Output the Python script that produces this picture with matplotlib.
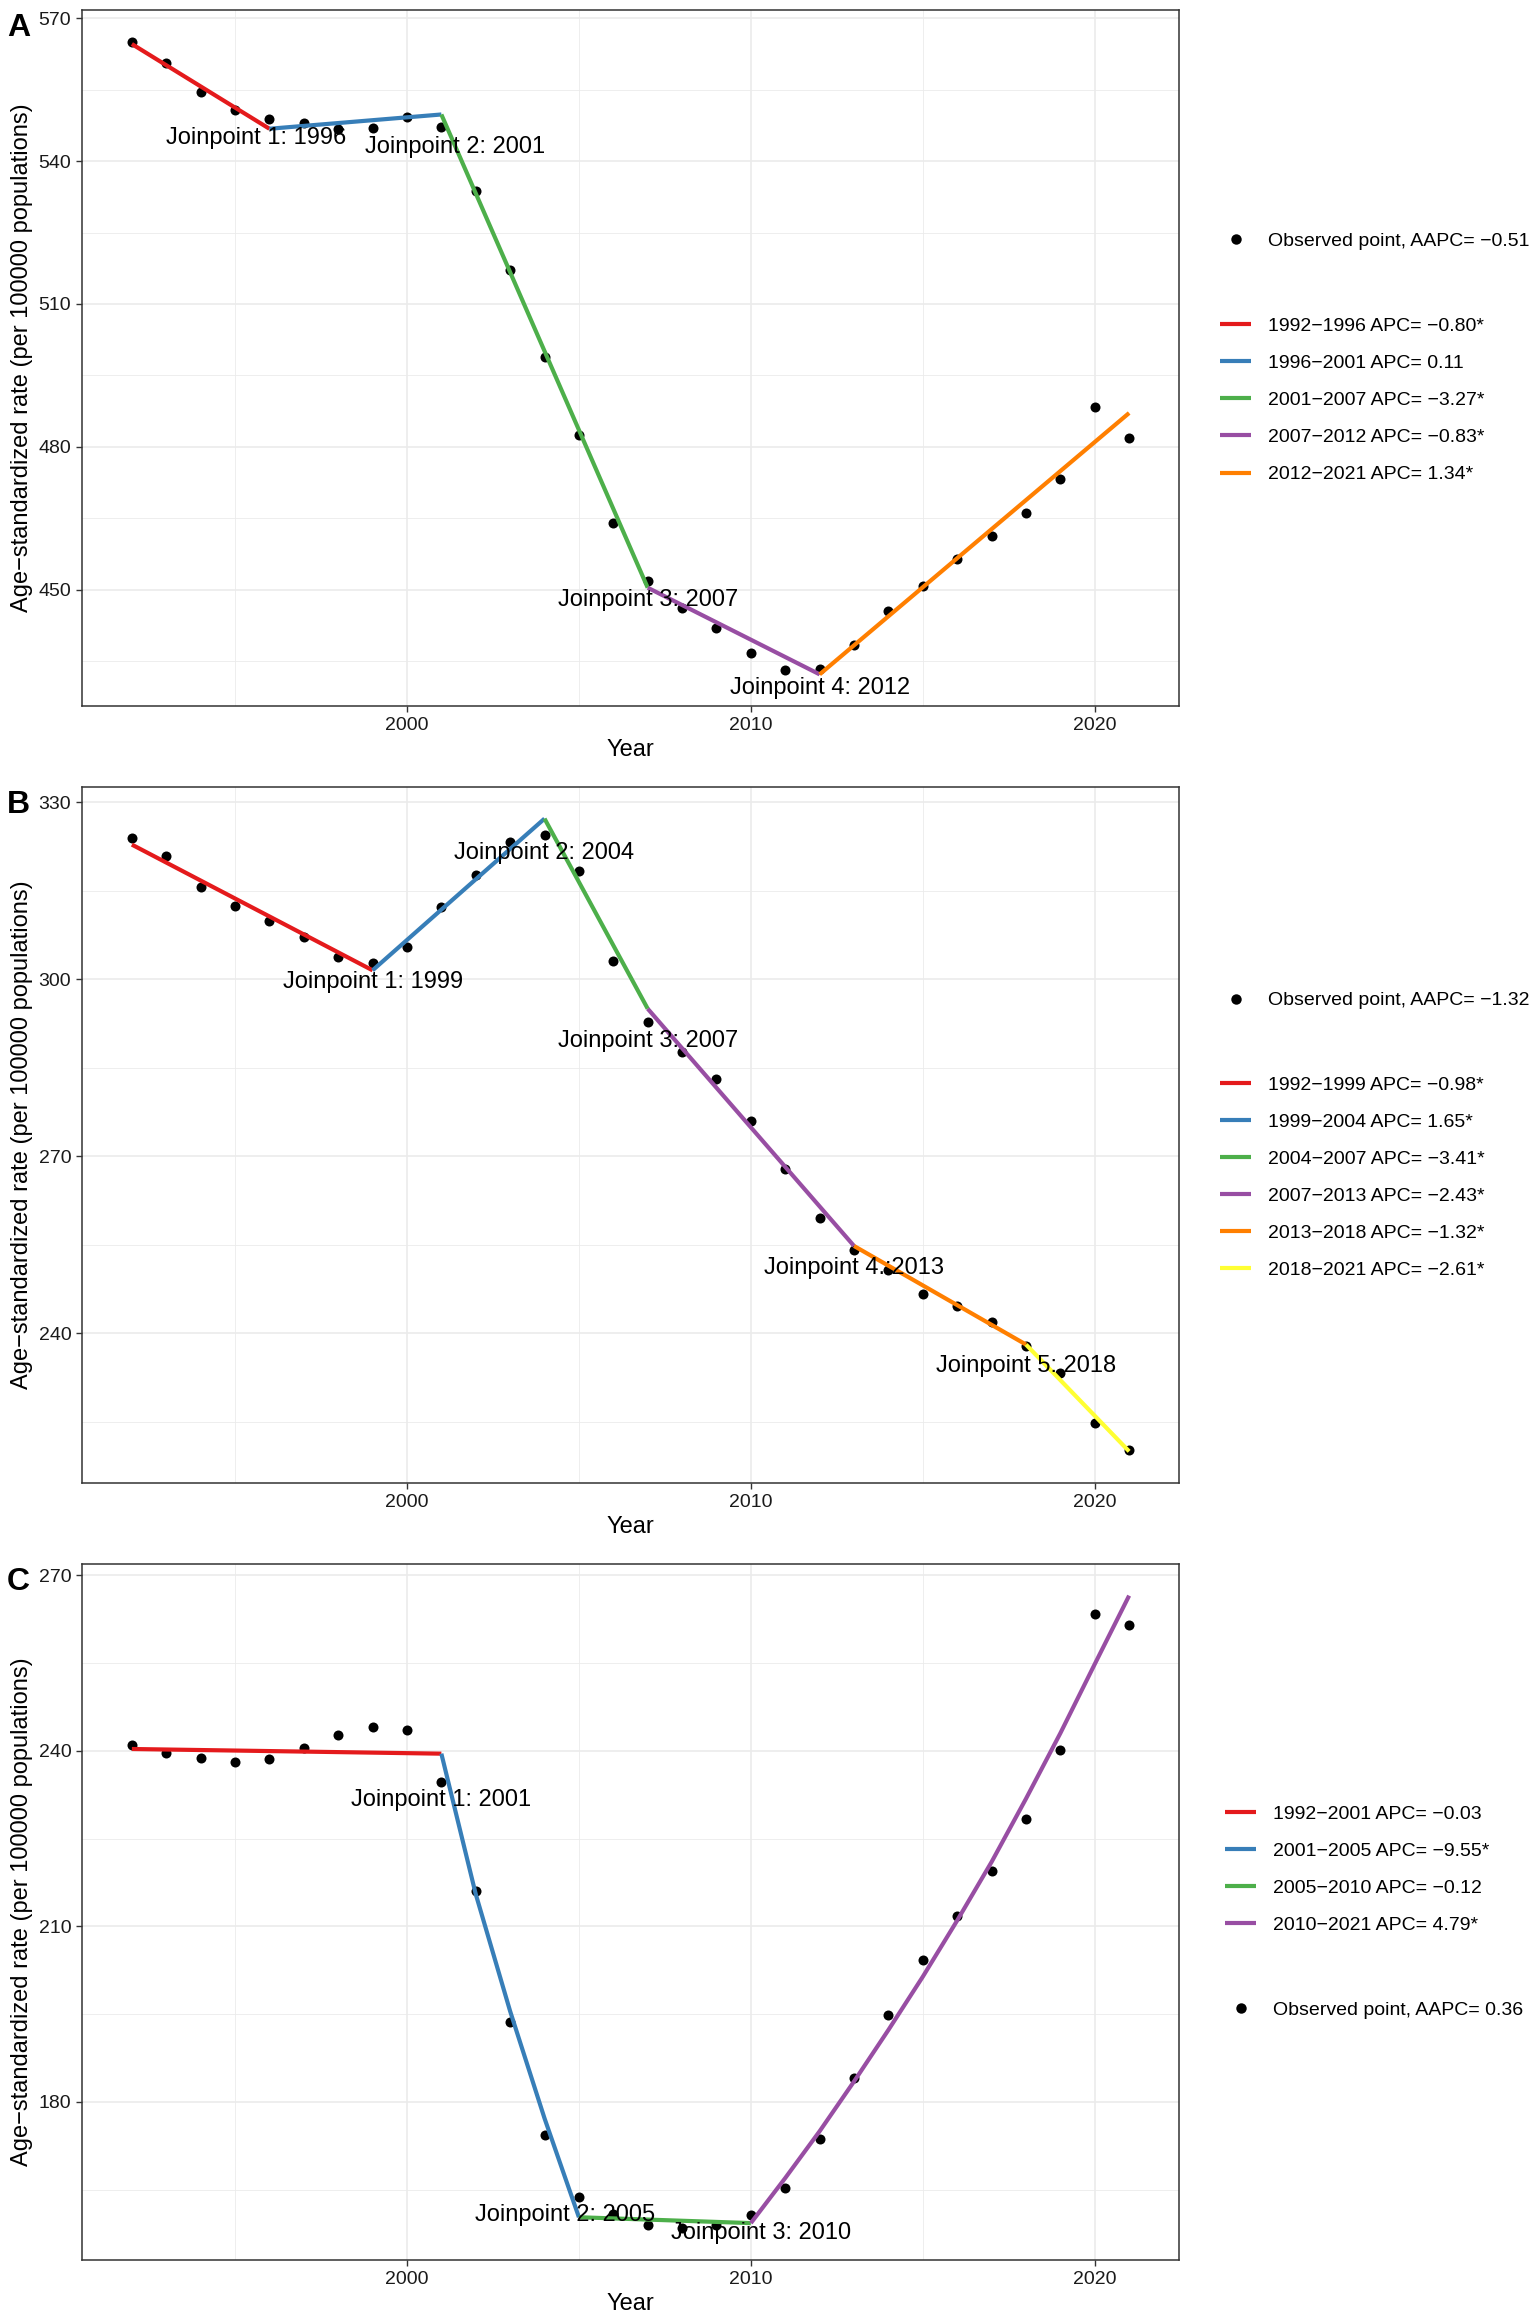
import matplotlib
matplotlib.use('Agg')
import matplotlib.pyplot as plt
from matplotlib.lines import Line2D
from matplotlib.ticker import MultipleLocator

plt.rcParams['font.family'] = ['Liberation Sans', 'DejaVu Sans']

# ---------------- data ----------------
years = list(range(1992, 2022))

# Panel A
obs_A = [565.1, 560.7, 554.6, 550.7, 548.8, 548.0, 546.7, 547.0, 549.3, 547.1,
         533.8, 517.2, 498.9, 482.5, 463.9, 451.8, 446.1, 442.0, 436.6, 433.1,
         433.4, 438.3, 445.5, 450.8, 456.4, 461.3, 466.0, 473.2, 488.3, 481.8]
fit_years_A = [[1992, 1996], [1996, 2001], [2001, 2007], [2007, 2012], [2012, 2021]]
fit_vals_A = [[564.6, 546.8], [546.8, 549.8], [549.8, 450.4], [450.4, 432.2], [432.2, 487.1]]
seg_labels_A = ["1992\u22121996 APC= \u22120.80*", "1996\u22122001 APC= 0.11",
                "2001\u22122007 APC= \u22123.27*", "2007\u22122012 APC= \u22120.83*",
                "2012\u22122021 APC= 1.34*"]
obs_label_A = "Observed point, AAPC= \u22120.51"
jp_labels_A = ["Joinpoint 1: 1996", "Joinpoint 2: 2001", "Joinpoint 3: 2007", "Joinpoint 4: 2012"]
jp_pos_A = [(1995.6, 544.9), (2001.4, 543.0), (2007.0, 447.8), (2012.0, 429.3)]

# Panel B
obs_B = [323.9, 320.8, 315.6, 312.4, 309.9, 307.2, 303.8, 302.8, 305.5, 312.2,
         317.6, 323.2, 324.5, 318.4, 303.0, 292.7, 287.7, 283.1, 275.9, 267.8,
         259.6, 254.2, 250.7, 246.6, 244.6, 242.0, 237.8, 233.3, 224.8, 220.3]
fit_years_B = [[1992, 1999], [1999, 2004], [2004, 2007], [2007, 2013], [2013, 2018], [2018, 2021]]
fit_vals_B = [[322.8, 301.5], [301.5, 327.2], [327.2, 295.0], [295.0, 254.8], [254.8, 238.1], [238.1, 220.0]]
seg_labels_B = ["1992\u22121999 APC= \u22120.98*", "1999\u22122004 APC= 1.65*",
                "2004\u22122007 APC= \u22123.41*", "2007\u22122013 APC= \u22122.43*",
                "2013\u22122018 APC= \u22121.32*", "2018\u22122021 APC= \u22122.61*"]
obs_label_B = "Observed point, AAPC= \u22121.32"
jp_labels_B = ["Joinpoint 1: 1999", "Joinpoint 2: 2004", "Joinpoint 3: 2007",
               "Joinpoint 4.:2013", "Joinpoint 5: 2018"]
jp_pos_B = [(1999.0, 299.5), (2004.0, 321.3), (2007.0, 289.5), (2013.0, 251.0), (2018.0, 234.5)]

# Panel C
obs_C = [240.9, 239.6, 238.7, 238.0, 238.6, 240.5, 242.7, 244.0, 243.5, 234.7,
         216.0, 193.7, 174.3, 163.8, 160.9, 159.0, 158.4, 159.0, 160.6, 165.3,
         173.7, 184.1, 194.8, 204.2, 211.8, 219.4, 228.3, 240.1, 263.3, 261.5]
fit_years_C = [[1992, 2001], [2001, 2002, 2003, 2004, 2005], [2005, 2010],
               list(range(2010, 2022))]
fit_vals_C = [[240.3, 239.5], [239.5, 215.5, 195.5, 177.2, 160.3], [160.3, 159.3],
              [159.3, 167.0, 175.0, 183.5, 192.3, 201.4, 211.0, 221.0, 231.8, 243.0, 254.8, 266.5]]
seg_labels_C = ["1992\u22122001 APC= \u22120.03", "2001\u22122005 APC= \u22129.55*",
                "2005\u22122010 APC= \u22120.12", "2010\u22122021 APC= 4.79*"]
obs_label_C = "Observed point, AAPC= 0.36"
jp_labels_C = ["Joinpoint 1: 2001", "Joinpoint 2: 2005", "Joinpoint 3: 2010"]
jp_pos_C = [(2001.0, 231.6), (2004.6, 160.7), (2010.3, 157.6)]

panel_letters = ["A", "B", "C"]
x_major_ticks = [2000, 2010, 2020]

# ---------------- style ----------------
SET1 = ['#E41A1C', '#377EB8', '#4DAF4A', '#984EA3', '#FF7F00', '#FFFF33']
W, H = 1535, 2321
fig = plt.figure(figsize=(W / 100, H / 100), dpi=100)

ax_left, ax_right = 82, 1179
panel_tb = [(10, 706), (787, 1483), (1564, 2260)]
# legend layout (pixel): observed-row centre y, line-block centre y, left x
leg_layout = [(241.3, 400.4, 1220), (1000.6, 1177.5, 1220), (2010.1, 1869.5, 1225)]

panels = [
    (obs_A, fit_years_A, fit_vals_A, seg_labels_A, obs_label_A, jp_labels_A, jp_pos_A),
    (obs_B, fit_years_B, fit_vals_B, seg_labels_B, obs_label_B, jp_labels_B, jp_pos_B),
    (obs_C, fit_years_C, fit_vals_C, seg_labels_C, obs_label_C, jp_labels_C, jp_pos_C),
]

LW = 3.0
GRID = '#EBEBEB'
DARK = '#333333'

for i, (obs, fy, fv, seglab, obslab, jpl, jpp) in enumerate(panels):
    top, bot = panel_tb[i]
    ax = fig.add_axes([ax_left / W, 1 - bot / H, (ax_right - ax_left) / W, (bot - top) / H])

    # scales (ggplot-like 5% expansion)
    allv = list(obs) + [v for seg in fv for v in seg]
    lo, hi = min(allv), max(allv)
    pad = 0.05 * (hi - lo)
    ax.set_ylim(lo - pad, hi + pad)
    xp = 0.05 * (years[-1] - years[0])
    ax.set_xlim(years[0] - xp, years[-1] + xp)

    ax.set_xticks(x_major_ticks)
    ax.xaxis.set_minor_locator(MultipleLocator(5))
    ax.yaxis.set_major_locator(MultipleLocator(30))
    ax.yaxis.set_minor_locator(MultipleLocator(15))
    ax.grid(True, which='major', color=GRID, lw=1.2, zorder=0)
    ax.grid(True, which='minor', color=GRID, lw=0.6, zorder=0)
    ax.set_axisbelow(True)
    ax.tick_params(which='major', direction='out', length=4.2, width=1.0, color=DARK,
                   labelsize=14, labelcolor='#1a1a1a', pad=3.5)
    ax.tick_params(which='minor', length=0)
    for s in ax.spines.values():
        s.set_color(DARK)
        s.set_linewidth(1.1)

    # observed points
    ax.scatter(years, obs, s=52, color='black', zorder=3, linewidths=0)
    # fitted segments
    handles = []
    for k, (yy, vv) in enumerate(zip(fy, fv)):
        ax.plot(yy, vv, color=SET1[k], lw=LW, solid_capstyle='butt', zorder=4)
        handles.append(Line2D([], [], color=SET1[k], lw=LW, solid_capstyle='butt'))
    # joinpoint labels
    for txt, (px, py) in zip(jpl, jpp):
        ax.text(px, py, txt, ha='center', va='center', fontsize=17, color='black', zorder=5)

    ax.set_xlabel('Year', fontsize=17)
    ax.set_ylabel('Age\u2212standardized rate (per 100000 populations)', fontsize=17)
    ax.xaxis.set_label_coords(0.5, -33 / (bot - top))
    ax.xaxis.label.set_va('top')
    ax.yaxis.set_label_coords(-(ax_left - 33) / (ax_right - ax_left), 0.5)

    fig.text(7 / W, 1 - (top + 3) / H, panel_letters[i], fontsize=23, fontweight='bold',
             va='top', ha='left')

    # legends
    oy, ly, lx = leg_layout[i]
    pt_handle = [Line2D([], [], ls='none', marker='o', ms=7.5, color='black', mec='none')]
    fig.legend(pt_handle, [obslab], loc='center left',
               bbox_to_anchor=(lx / W, 1 - oy / H), frameon=False, fontsize=14,
               handlelength=1.6, handletextpad=0.85, borderpad=0, borderaxespad=0)
    fig.legend(handles, seglab, loc='center left',
               bbox_to_anchor=(lx / W, 1 - ly / H), frameon=False, fontsize=14,
               handlelength=1.6, handletextpad=0.85, borderpad=0, borderaxespad=0,
               labelspacing=1.0)

fig.savefig('out.png', dpi=100)
